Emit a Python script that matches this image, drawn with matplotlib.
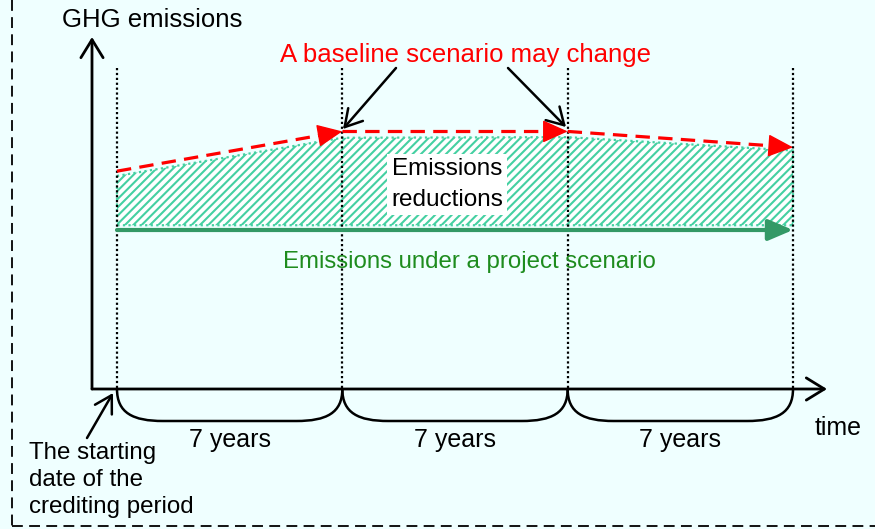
import matplotlib.pyplot as plt
from matplotlib.patches import FancyArrowPatch, PathPatch
from matplotlib.path import Path

plt.rcParams['font.family'] = ['Liberation Sans', 'DejaVu Sans']
plt.rcParams['hatch.linewidth'] = 1.5

# data: years at period boundaries, emission levels (arbitrary units)
period_years = [0, 7, 14, 21]
baseline = [68.5, 81.0, 81.0, 76.0]
reduction_top = [67.0, 79.0, 79.2, 75.0]
reduction_bottom = [51.5, 51.5, 51.5, 51.5]
project = [50.0, 50.0]
project_years = [0, 21]
period_labels = ['7 years', '7 years', '7 years']

# layout: pixel positions of the time origin and scale
X0, Y0 = 117, 389
SX = (793 - 117) / 21
SY = 3.18
W, H = 875, 529

bg = '#EFFFFF'
red = '#FF0000'
hatch_green = '#45D0A2'
line_green = '#339966'
text_green = '#1E8C1E'


def d(xp, yp):
    # image pixel -> data coords
    return ((xp - X0) / SX, (Y0 - yp) / SY)


fig = plt.figure(figsize=(W / 100, H / 100), dpi=100)
fig.patch.set_facecolor(bg)
ax = fig.add_axes([0, 0, 1, 1])
ax.set_facecolor(bg)
ax.set_xlim(d(0, 0)[0], d(W, 0)[0])
ax.set_ylim(d(0, H)[1], d(0, 0)[1])
ax.axis('off')

# dashed frame (left and bottom)
ax.plot([d(12, 0)[0], d(12, 526)[0]], [d(12, 0)[1], d(12, 526)[1]],
        color='black', lw=1.3, dashes=(6, 3.5))
ax.plot([d(12, 526)[0], d(W, 526)[0]], [d(12, 526)[1], d(W, 526)[1]],
        color='black', lw=1.3, dashes=(6, 3.5))


def arrow(p0, p1, style, color='black', lw=1.8, ls='-', scale=20, z=5):
    a = FancyArrowPatch(p0, p1, arrowstyle=style, mutation_scale=scale,
                        color=color, lw=lw, linestyle=ls,
                        shrinkA=0, shrinkB=0, zorder=z)
    ax.add_patch(a)


# axes with open arrow heads
origin = d(92, 389)
arrow(origin, d(92, 37), '->,head_length=0.65,head_width=0.4', lw=2.0)
arrow(origin, d(827, 389), '->,head_length=0.65,head_width=0.4', lw=2.0)

# dotted period boundaries
top_y = d(0, 68)[1]
for yr in period_years:
    ax.plot([yr, yr], [top_y, 0], color='black', lw=1.6, ls=(0, (1, 1.2)), zorder=3)

# emissions reductions (hatched area)
ax.fill_between(period_years, reduction_bottom, reduction_top, facecolor='white',
                edgecolor=hatch_green, hatch='////', lw=0, zorder=2)
ax.plot(period_years + period_years[::-1] + period_years[:1],
        reduction_top + reduction_bottom[::-1] + reduction_top[:1],
        color=hatch_green, lw=1.6, ls=(0, (1, 1.5)), zorder=2)

# baseline scenario: dashed segments with solid filled heads
for i in range(len(period_years) - 1):
    x0, x1 = period_years[i], period_years[i + 1]
    y0, y1 = baseline[i], baseline[i + 1]
    ax.plot([x0, x0 + 0.93 * (x1 - x0)], [y0, y0 + 0.93 * (y1 - y0)],
            color=red, lw=2.3, dashes=(4.5, 2.6), solid_capstyle='butt', zorder=6)
    arrow((x0 + 0.92 * (x1 - x0), y0 + 0.92 * (y1 - y0)), (x1, y1),
          '-|>,head_length=0.8,head_width=0.36', color=red, lw=1.0, z=6)

# project scenario
arrow((project_years[0], project[0]), (project_years[1], project[1]),
      '-|>,head_length=0.75,head_width=0.32', color=line_green, lw=3.0, z=4)

# braces under the time axis
for a, b in zip(period_years[:-1], period_years[1:]):
    xa, xb = X0 + a * SX, X0 + b * SX
    pts = [(xa, 389), (xa, 413), (xa + 16, 421), (xa + 46, 421),
           (xb - 46, 421), (xb - 16, 421), (xb, 413), (xb, 389)]
    codes = [Path.MOVETO, Path.CURVE4, Path.CURVE4, Path.CURVE4,
             Path.LINETO, Path.CURVE4, Path.CURVE4, Path.CURVE4]
    ax.add_patch(PathPatch(Path([d(*p) for p in pts], codes),
                           facecolor='none', edgecolor='black', lw=1.8, zorder=5))

for a, b, lab in zip(period_years[:-1], period_years[1:], period_labels):
    ax.text((a + b) / 2, d(0, 447)[1], lab, fontsize=18, ha='center', va='baseline')

# texts
ax.text(*d(152, 27), 'GHG emissions', fontsize=18.5, ha='center', va='baseline')
ax.text(*d(466, 62), 'A baseline scenario may change', fontsize=18.5,
        color=red, ha='center', va='baseline')
ax.text(*d(447, 206), 'Emissions\nreductions', fontsize=17.5, ha='center',
        va='baseline', multialignment='center', linespacing=1.55, zorder=7,
        bbox=dict(facecolor='white', edgecolor='none', pad=3))
ax.text(*d(469, 268), 'Emissions under a project scenario', fontsize=17.3,
        color=text_green, ha='center', va='baseline')
ax.text(*d(815, 435), 'time', fontsize=18, ha='left', va='baseline')
ax.text(*d(29, 513), 'The starting\ndate of the\ncrediting period', fontsize=17.4,
        ha='left', va='baseline', linespacing=1.3)

# pointers
arrow(d(396, 68), d(343, 129), '->,head_length=0.6,head_width=0.35', lw=1.8, z=7)
arrow(d(508, 68), d(566, 127), '->,head_length=0.6,head_width=0.35', lw=1.8, z=7)
arrow(d(87, 438), d(113, 393), '->,head_length=0.6,head_width=0.35', lw=1.8, z=7)

fig.savefig('out.png', dpi=100, facecolor=bg)
